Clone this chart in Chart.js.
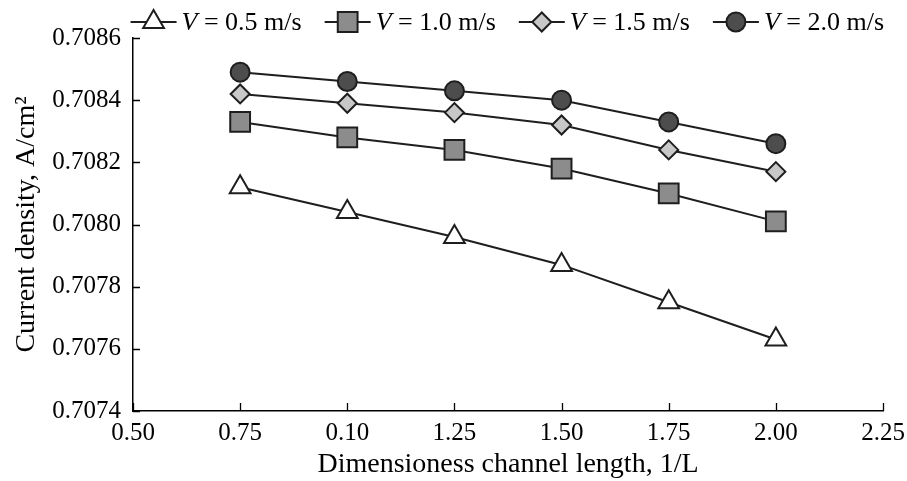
<!DOCTYPE html>
<html>
<head>
<meta charset="utf-8">
<script src="https://cdn.jsdelivr.net/npm/chart.js@4.4.1/dist/chart.umd.min.js"></script>
<style>
  html, body { margin: 0; padding: 0; background: #fff; }
  #wrap { width: 907px; height: 481px; }
</style>
</head>
<body>
<div id="wrap"><canvas id="chart"></canvas></div>
<script>
// values
const xValues = [0.75, 1.0, 1.25, 1.5, 1.75, 2.0];
const xTickLabels = ['0.50', '0.75', '0.10', '1.25', '1.50', '1.75', '2.00', '2.25'];
const seriesNames = ['0.5 m/s', '1.0 m/s', '1.5 m/s', '2.0 m/s'];
const v05 = [0.70812, 0.70804, 0.70796, 0.70787, 0.70775, 0.70763];
const v10 = [0.70833, 0.70828, 0.70824, 0.70818, 0.70810, 0.70801];
const v15 = [0.70842, 0.70839, 0.70836, 0.70832, 0.70824, 0.70817];
const v20 = [0.70849, 0.70846, 0.70843, 0.70840, 0.70833, 0.70826];

const FONT = "'Liberation Serif', 'Times New Roman', serif";
const INK = '#1e1e1e';

function pts(vals) {
  return vals.map((v, i) => ({ x: xValues[i], y: v }));
}

function series(name, vals, style, radius, fill) {
  return {
    label: name,
    data: pts(vals),
    borderColor: INK,
    borderWidth: 2,
    pointStyle: style,
    pointRadius: radius,
    pointHoverRadius: radius,
    pointBackgroundColor: fill,
    pointBorderColor: INK,
    pointBorderWidth: 2,
    tension: 0
  };
}

// legend with line through the marker and italic V
const lineLegend = {
  id: 'lineLegend',
  afterDraw(chart) {
    const ctx = chart.ctx;
    const y = 22;
    const segW = 46, gapT = 5, gapItem = 23;
    ctx.save();
    ctx.font = 'italic 26px ' + FONT;
    const vW = ctx.measureText('V').width;
    ctx.font = '26px ' + FONT;
    const widths = chart.data.datasets.map(ds => segW + gapT + vW + ctx.measureText(' = ' + ds.label).width);
    const total = widths.reduce((a, b) => a + b, 0) + gapItem * (widths.length - 1);
    let x = 884 - total;
    chart.data.datasets.forEach((ds, i) => {
      ctx.strokeStyle = INK;
      ctx.lineWidth = 2;
      ctx.beginPath();
      ctx.moveTo(x, y);
      ctx.lineTo(x + segW, y);
      ctx.stroke();
      ctx.fillStyle = ds.pointBackgroundColor;
      ctx.lineWidth = 2;
      Chart.helpers.drawPoint(ctx, {
        pointStyle: ds.pointStyle, radius: ds.pointRadius, rotation: 0, borderWidth: 2
      }, x + segW / 2, y);
      ctx.fillStyle = '#000';
      ctx.textBaseline = 'middle';
      ctx.textAlign = 'left';
      ctx.font = 'italic 26px ' + FONT;
      ctx.fillText('V', x + segW + gapT, y + 1);
      ctx.font = '26px ' + FONT;
      ctx.fillText(' = ' + ds.label, x + segW + gapT + vW, y + 1);
      x += widths[i] + gapItem;
    });
    ctx.restore();
  }
};

// inward tick marks
const innerTicks = {
  id: 'innerTicks',
  afterDraw(chart) {
    const ctx = chart.ctx;
    const xs = chart.scales.x, ys = chart.scales.y;
    const area = chart.chartArea;
    ctx.save();
    ctx.strokeStyle = '#000';
    ctx.lineWidth = 1.3;
    ctx.beginPath();
    xs.ticks.forEach(t => {
      const px = Math.round(xs.getPixelForValue(t.value)) + 0.5;
      ctx.moveTo(px, area.bottom);
      ctx.lineTo(px, area.bottom - 8);
    });
    ys.ticks.forEach(t => {
      const py = Math.round(ys.getPixelForValue(t.value)) + 0.5;
      ctx.moveTo(area.left, py);
      ctx.lineTo(area.left + 7, py);
    });
    ctx.stroke();
    ctx.restore();
  }
};

new Chart(document.getElementById('chart'), {
  type: 'line',
  data: {
    datasets: [
      series(seriesNames[0], v05, 'triangle', 12, '#ffffff'),
      series(seriesNames[1], v10, 'rect', 14, '#8c8c8c'),
      series(seriesNames[2], v15, 'rectRot', 9.5, '#c8c8c8'),
      series(seriesNames[3], v20, 'circle', 9.5, '#4d4d4d')
    ]
  },
  options: {
    responsive: true,
    maintainAspectRatio: false,
    animation: false,
    layout: { padding: { top: 38, right: 24, left: 0, bottom: 0 } },
    plugins: {
      legend: { display: false },
      tooltip: { enabled: false }
    },
    scales: {
      x: {
        type: 'linear',
        min: 0.5,
        max: 2.25,
        grid: { display: false, drawTicks: false },
        border: { display: true, color: '#000', width: 1.5 },
        ticks: {
          stepSize: 0.25,
          color: '#000',
          padding: 7,
          font: { family: FONT, size: 25 },
          callback: (v, i) => xTickLabels[i]
        },
        title: {
          display: true,
          text: 'Dimensioness channel length, 1/L',
          color: '#000',
          padding: { top: 0, bottom: 0 },
          font: { family: FONT, size: 28 }
        },
        afterFit: s => { s.height = 70; s.paddingLeft = 0; s.paddingRight = 0; }
      },
      y: {
        min: 0.7074,
        max: 0.7086,
        grid: { display: false, drawTicks: false },
        border: { display: true, color: '#000', width: 1.5 },
        ticks: {
          stepSize: 0.0002,
          color: '#000',
          padding: 12,
          font: { family: FONT, size: 25 },
          callback: v => v.toFixed(4)
        },
        title: {
          display: true,
          text: 'Current density, A/cm²',
          color: '#000',
          padding: { top: 10, bottom: 0 },
          font: { family: FONT, size: 28 }
        },
        afterFit: s => { s.width = 133; }
      }
    }
  },
  plugins: [lineLegend, innerTicks]
});
</script>
</body>
</html>
